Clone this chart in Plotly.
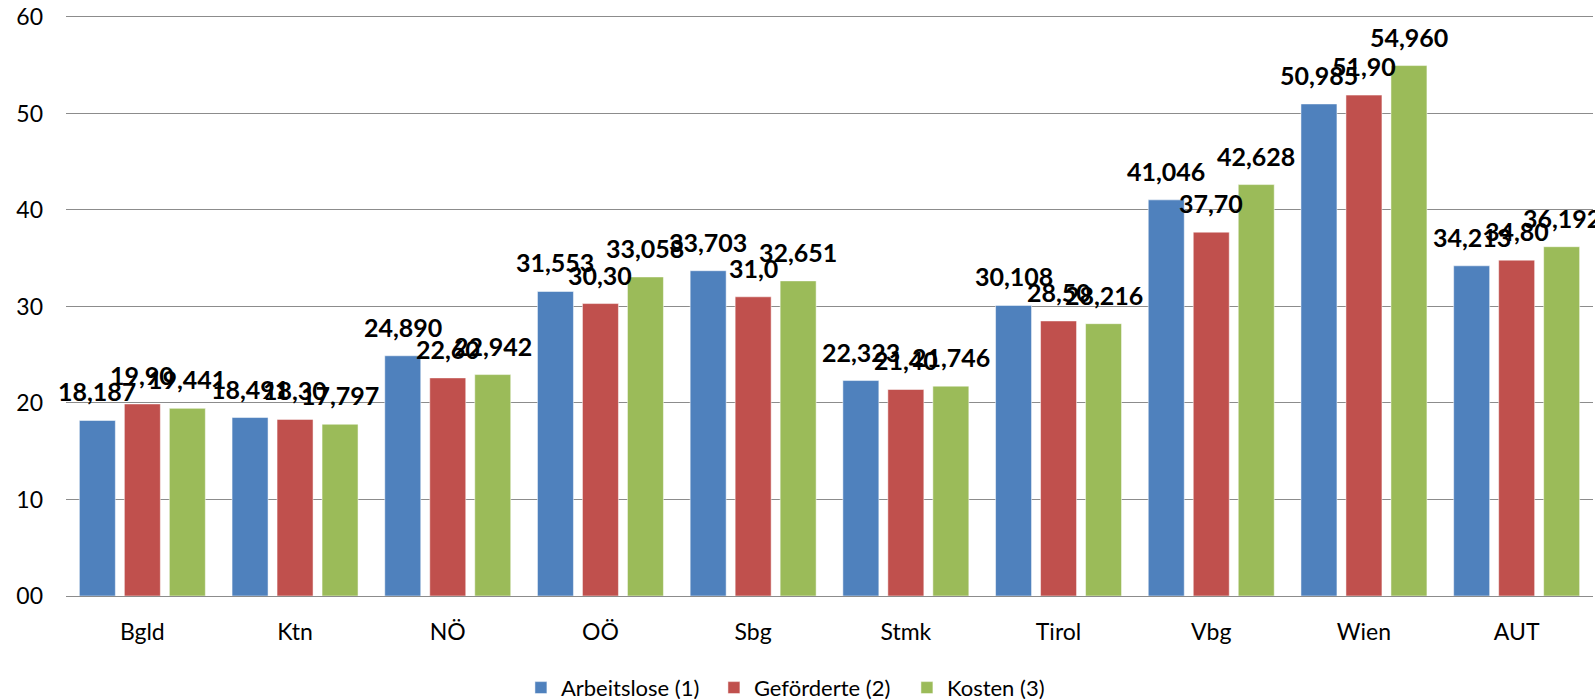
import plotly.graph_objects as go

categories = ["Bgld", "Ktn", "NÖ", "OÖ", "Sbg", "Stmk", "Tirol", "Vbg", "Wien", "AUT"]

arbeitslose = [18.187, 18.491, 24.890, 31.553, 33.703, 22.323, 30.108, 41.046, 50.985, 34.213]
gefoerderte = [19.90, 18.30, 22.60, 30.30, 31.0, 21.40, 28.50, 37.70, 51.90, 34.80]
kosten = [19.441, 17.797, 22.942, 33.058, 32.651, 21.746, 28.216, 42.628, 54.960, 36.192]

arbeitslose_labels = ["18,187", "18,491", "24,890", "31,553", "33,703", "22,323", "30,108", "41,046", "50,985", "34,213"]
gefoerderte_labels = ["19,90", "18,30", "22,60", "30,30", "31,0", "21,40", "28,50", "37,70", "51,90", "34,80"]
kosten_labels = ["19,441", "17,797", "22,942", "33,058", "32,651", "21,746", "28,216", "42,628", "54,960", "36,192"]

y_ticks = [0, 10, 20, 30, 40, 50, 60]
y_ticktext = ["00", "10", "20", "30", "40", "50", "60"]

series = [
    ("Arbeitslose (1)", arbeitslose, arbeitslose_labels, "#4F81BD"),
    ("Geförderte (2)", gefoerderte, gefoerderte_labels, "#C0504D"),
    ("Kosten (3)", kosten, kosten_labels, "#9BBB59"),
]

FONT = "Lato, Carlito, Calibri, 'Open Sans', sans-serif"

WIDTH, HEIGHT = 1595, 699
ML, MR, MT, MB = 66, 2, 15, 103
BARGAP, BARGROUPGAP = 0.116, 0.2

# pixel width of one bar slot inside a category group (derived from layout settings)
plot_w = WIDTH - ML - MR
slot_px = plot_w / len(categories) * (1 - BARGAP) / len(series)

fig = go.Figure()
annotations = []
for i, (name, vals, labels, color) in enumerate(series):
    fig.add_trace(go.Bar(
        x=categories, y=vals, name=name,
        marker=dict(color=color, line=dict(color="rgba(255,255,255,0.5)", width=1)),
        cliponaxis=False,
    ))
    shift = (i - (len(series) - 1) / 2) * slot_px
    for c, v, t in zip(categories, vals, labels):
        annotations.append(dict(
            x=c, y=v, xref="x", yref="y", text=t, showarrow=False,
            xanchor="center", yanchor="bottom", xshift=shift, yshift=12,
            font=dict(family=FONT, size=25, color="#000000", weight="bold"),
        ))

fig.update_layout(
    width=WIDTH, height=HEIGHT,
    margin=dict(l=ML, r=MR, t=MT, b=MB, autoexpand=False),
    paper_bgcolor="white", plot_bgcolor="white",
    barmode="group", bargap=BARGAP, bargroupgap=BARGROUPGAP,
    font=dict(family=FONT, size=23, color="#000000"),
    showlegend=True,
    annotations=annotations,
    legend=dict(orientation="h", xref="container", x=0.3266, xanchor="left",
                yref="container", y=0.016, yanchor="middle",
                entrywidth=148, entrywidthmode="pixels",
                font=dict(family=FONT, size=22), traceorder="normal"),
    xaxis=dict(range=[-0.5, len(categories) - 0.5], autorange=False,
               showgrid=False, ticks="", showline=False, tickfont=dict(size=23),
               ticklabelstandoff=20),
    yaxis=dict(range=[0, 60.2], autorange=False, tickvals=y_ticks, ticktext=y_ticktext,
               showgrid=True, gridcolor="#8C8C8C", gridwidth=1, zeroline=True,
               zerolinecolor="#8C8C8C", zerolinewidth=1, showline=False, ticks="",
               tickfont=dict(size=23), ticklabelstandoff=22),
)

fig.write_html("out.html", config={"displayModeBar": False},
               post_script="document.body.style.margin='0';document.body.style.padding='0';")
